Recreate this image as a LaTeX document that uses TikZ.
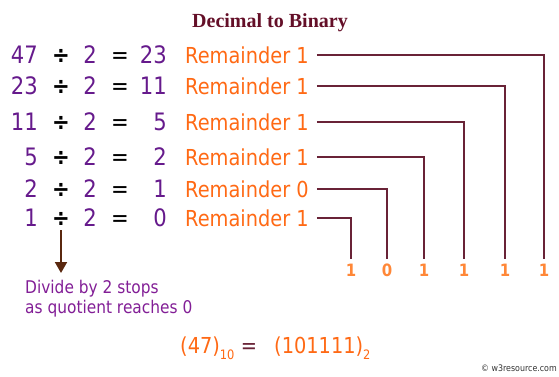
\documentclass[tikz,border=0pt]{standalone}
\usepackage{fontspec}
\setmainfont{DejaVu Sans}[FakeStretch=0.88]
\newfontfamily\titlefont{Liberation Serif}
\usetikzlibrary{arrows.meta}
\definecolor{eqPurple}{RGB}{102,26,140}
\definecolor{remOrange}{RGB}{255,105,20}
\definecolor{bitOrange}{RGB}{255,135,55}
\definecolor{lineMaroon}{RGB}{105,35,55}
\definecolor{titleMaroon}{RGB}{100,15,40}
\definecolor{notePurple}{RGB}{130,30,150}
\definecolor{arrowBrown}{RGB}{90,40,15}
\tikzset{
  num/.style={eqPurple, inner sep=0pt, font=\fontsize{24}{24}\selectfont},
  op/.style={black, inner sep=0pt, font=\fontsize{24}{24}\selectfont},
  remtext/.style={remOrange, inner xsep=4pt, inner ysep=0pt, font=\fontsize{22}{22}\selectfont},
  bit/.style={bitOrange, inner sep=4pt, font=\bfseries\fontsize{17}{17}\selectfont},
  link/.style={lineMaroon, line width=1.6pt},
}

\begin{document}
\begin{tikzpicture}[x=1pt, y=-1pt]
  \useasboundingbox (0,0) rectangle (559,376);

  % Title
  \node[anchor=base, titleMaroon, font=\titlefont\bfseries\fontsize{20}{20}\selectfont] (title) at (270,27) {Decimal to Binary};

  % Division rows: dividend / quotient / remainder / baseline / bit column
  \foreach \n/\q/\r/\y/\c [count=\i] in {47/23/1/63/544, 23/11/1/94/505, 11/5/1/130/464, 5/2/1/165/424, 2/1/0/197/387, 1/0/1/226/351} {
    \node[num, anchor=base east] (dvd\i) at (38,\y) {\n};
    \node[op, anchor=base, font=\bfseries\fontsize{24}{24}\selectfont] (div\i) at (61,\y) {÷};
    \node[num, anchor=base] (two\i) at (90,\y) {2};
    \node[op, anchor=base] (eq\i) at (120,\y) {=};
    \node[num, anchor=base east] (quo\i) at (167,\y) {\q};
    \node[remtext, anchor=base west] (rem\i) at (181,\y) {Remainder \r};
    \node[bit, anchor=base] (bit\i) at (\c,276) {\r};
    \draw[link] ([xshift=4pt]rem\i.east) -| (bit\i.north);
  }

  % Stop arrow and note
  \coordinate (stop) at (61,273);
  \draw[arrowBrown, line width=2pt, -{Triangle[width=12pt,length=11pt]}] ([yshift=-4pt]div6.south) -- (stop);
  \node[notePurple, anchor=north west, align=left, inner sep=0pt, font=\fontsize{17.5}{19.5}\selectfont] (note) at (25,280) {Divide by 2 stops\\as quotient reaches 0};

  % Result
  \node[remOrange, anchor=base west, inner sep=0pt, font=\fontsize{22}{22}\selectfont] (dec) at (180,353) {(47)\raisebox{-6pt}{\fontsize{13}{13}\selectfont 10}};
  \node[op, anchor=base, lineMaroon, font=\fontsize{22}{22}\selectfont] (equals) at (249,353) {=};
  \node[remOrange, anchor=base west, inner sep=0pt, font=\fontsize{22}{22}\selectfont] (bin) at (274,353) {(101111)\raisebox{-6pt}{\fontsize{13}{13}\selectfont 2}};

  \node[anchor=east, black!80, inner sep=0pt, font=\fontsize{9}{9}\selectfont] (credit) at (557,368) {© w3resource.com};
\end{tikzpicture}
\end{document}
